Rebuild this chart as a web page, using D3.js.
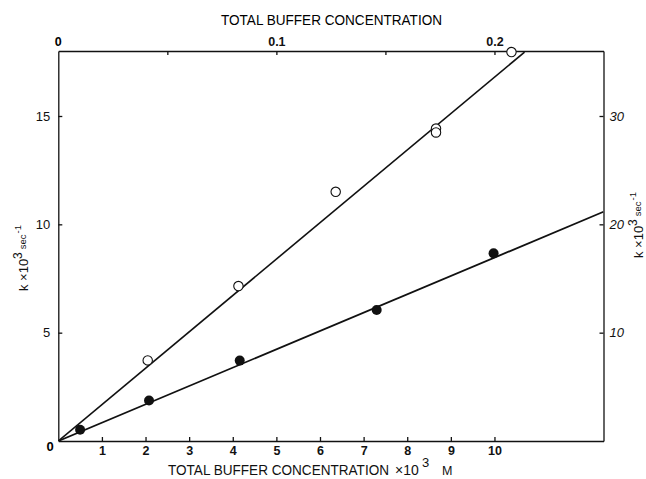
<!DOCTYPE html>
<html>
<head>
<meta charset="utf-8">
<script src="https://cdn.jsdelivr.net/npm/d3@7"></script>
<style>
  body { margin: 0; background: #fff; }
  svg { display: block; }
  .axis path, .axis line { stroke: #111; stroke-width: 1.3; }
  .axis text { font-family: "Liberation Sans", Arial, sans-serif; fill: #111; }
</style>
</head>
<body>
<svg id="chart" width="646" height="479"></svg>
<script>
// open circles (upper series)
const openX = [2.05, 4.13, 6.36, 8.66, 8.66, 10.39];
const openY = [3.72, 7.15, 11.5, 14.42, 14.24, 17.95];
// filled circles (lower series)
const filledX = [0.50, 2.08, 4.16, 7.30, 9.98];
const filledY = [0.52, 1.87, 3.71, 6.05, 8.66];
// drawn straight lines (end points)
const openFit = [[0, 0], [10.69, 17.95]];
const filledFit = [[0, 0], [12.5, 10.58]];

const bottomTicks = [1, 2, 3, 4, 5, 6, 7, 8, 9, 10];
const topTicks = [0.05, 0.1, 0.15, 0.2];
const topLabels = ["0.1", "0.2"];
const leftTicks = [5, 10, 15];
const rightTicks = [10, 20, 30];

const svg = d3.select("#chart");
const margin = { top: 51, right: 42.5, bottom: 38, left: 58.3 };
const width = 646, height = 479;

const x = d3.scaleLinear().domain([0, 12.5]).range([margin.left, width - margin.right]);
const y = d3.scaleLinear().domain([0, 18]).range([height - margin.bottom, margin.top]);
const xTop = d3.scaleLinear().domain([0, 0.25]).range(x.range());
const yRight = d3.scaleLinear().domain([0, 36]).range(y.range());

const font = '"Liberation Sans", Arial, sans-serif';

// bottom axis
svg.append("g")
  .attr("class", "axis")
  .attr("transform", `translate(0,${y(0)})`)
  .call(d3.axisBottom(x).tickValues(bottomTicks).tickSizeInner(-4).tickSizeOuter(0).tickPadding(5))
  .call(g => g.selectAll("text").attr("font-size", 12.5).attr("font-weight", "bold"));

// top axis
svg.append("g")
  .attr("class", "axis")
  .attr("transform", `translate(0,${y.range()[1]})`)
  .call(d3.axisTop(xTop).tickValues(topTicks).tickSizeInner(-4).tickSizeOuter(0).tickPadding(5)
    .tickFormat(d => d === 0.1 ? topLabels[0] : d === 0.2 ? topLabels[1] : ""))
  .call(g => g.selectAll("text").attr("font-size", 12.5).attr("font-weight", "bold"));

// left axis
svg.append("g")
  .attr("class", "axis")
  .attr("transform", `translate(${x(0)},0)`)
  .call(d3.axisLeft(y).tickValues(leftTicks).tickSizeInner(-4).tickSizeOuter(0).tickPadding(8))
  .call(g => g.selectAll("text").attr("font-size", 13));

// right axis
svg.append("g")
  .attr("class", "axis")
  .attr("transform", `translate(${x.range()[1]},0)`)
  .call(d3.axisRight(yRight).tickValues(rightTicks).tickSizeInner(-4).tickSizeOuter(0).tickPadding(6))
  .call(g => g.selectAll("text").attr("font-size", 13).attr("font-style", "italic"));

// corner zero labels
svg.append("text")
  .attr("x", 50).attr("y", 451)
  .attr("text-anchor", "middle")
  .attr("font-family", font).attr("font-size", 13).attr("font-weight", "bold")
  .text("0");
svg.append("text")
  .attr("x", x(0)).attr("y", 46)
  .attr("text-anchor", "middle")
  .attr("font-family", font).attr("font-size", 12.5).attr("font-weight", "bold")
  .text("0");

// titles
svg.append("text")
  .attr("x", 221).attr("y", 25)
  .attr("font-family", font).attr("font-size", 15)
  .attr("textLength", 221).attr("lengthAdjust", "spacingAndGlyphs")
  .text("TOTAL BUFFER CONCENTRATION");

const bt = svg.append("g").attr("font-family", font).attr("fill", "#111");
bt.append("text").attr("x", 168).attr("y", 475).attr("font-size", 14)
  .attr("textLength", 221).attr("lengthAdjust", "spacingAndGlyphs")
  .text("TOTAL BUFFER CONCENTRATION");
bt.append("text").attr("x", 395).attr("y", 475).attr("font-size", 14).text("×10");
bt.append("text").attr("x", 422).attr("y", 467).attr("font-size", 13).text("3");
bt.append("text").attr("x", 442).attr("y", 475).attr("font-size", 12.5).text("M");

// y labels
function yLabel(cx, cy) {
  const t = svg.append("text")
    .attr("transform", `translate(${cx},${cy}) rotate(-90)`)
    .attr("text-anchor", "middle")
    .attr("font-family", font).attr("font-size", 13).attr("fill", "#111");
  t.append("tspan").text("k ×10");
  t.append("tspan").attr("dy", -6).attr("font-size", 12).text("3");
  t.append("tspan").attr("dy", 4).attr("dx", 3).attr("font-size", 9.5).text("sec");
  t.append("tspan").attr("dy", -5).attr("dx", 1).attr("font-size", 9.5).text("-1");
}
yLabel(28, 258);
yLabel(643, 225);

// plot area clip
svg.append("clipPath").attr("id", "plotClip")
  .append("rect")
  .attr("x", x(0)).attr("y", y.range()[1])
  .attr("width", x.range()[1] - x(0)).attr("height", y(0) - y.range()[1]);

const line = d3.line().x(d => x(d[0])).y(d => y(d[1]));
const plot = svg.append("g").attr("clip-path", "url(#plotClip)");

plot.append("path").datum(openFit)
  .attr("d", line).attr("fill", "none").attr("stroke", "#111").attr("stroke-width", 1.6);
plot.append("path").datum(filledFit)
  .attr("d", line).attr("fill", "none").attr("stroke", "#111").attr("stroke-width", 1.8);

svg.selectAll("circle.open")
  .data(openX.map((v, i) => [v, openY[i]]))
  .join("circle")
  .attr("class", "open")
  .attr("cx", d => x(d[0]))
  .attr("cy", d => y(d[1]))
  .attr("r", 4.7)
  .attr("fill", "#fff")
  .attr("stroke", "#111")
  .attr("stroke-width", 1.1);

svg.selectAll("circle.filled")
  .data(filledX.map((v, i) => [v, filledY[i]]))
  .join("circle")
  .attr("class", "filled")
  .attr("cx", d => x(d[0]))
  .attr("cy", d => y(d[1]))
  .attr("r", 5)
  .attr("fill", "#111");
</script>
</body>
</html>
